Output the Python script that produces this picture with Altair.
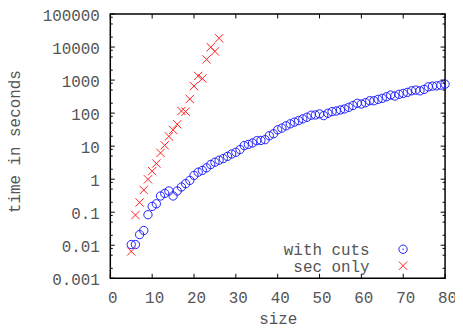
import altair as alt
import pandas as pd

series_names = ["with cuts", "sec only"]

sizes_cuts = list(range(5, 81))
time_cuts = [0.0105, 0.0105, 0.021, 0.028, 0.084, 0.15, 0.18, 0.31, 0.37, 0.44,
             0.31, 0.44, 0.58, 0.73, 0.92, 1.3, 1.63, 1.84, 2.21, 2.78,
             3.26, 3.75, 4.2, 4.9, 5.8, 6.5, 7.9, 10.4, 11.3, 12.5,
             14.6, 14.9, 15.7, 20.7, 23.7, 31.3, 35.2, 41.3, 47.4, 53.3,
             59.6, 67, 75, 86.5, 88, 94.6, 84, 99, 111, 116,
             125, 134, 150, 170, 198, 189, 207, 237, 237, 261,
             280, 313, 352, 329, 370, 396, 425, 474, 498, 474,
             522, 625, 656, 670, 703, 753]

sizes_sec = list(range(5, 27))
time_sec = [0.0065, 0.082, 0.197, 0.47, 0.99, 1.75, 2.98, 6.25, 10.6, 19.7,
            31, 46, 116, 111, 267, 656, 1336, 1117, 4246, 9930, 7380, 18500]

x_ticks = [0, 10, 20, 30, 40, 50, 60, 70, 80]
y_ticks = [0.001, 0.01, 0.1, 1, 10, 100, 1000, 10000, 100000]
y_minor = [m * t for t in y_ticks[:-1] for m in (2, 5, 8)]

W, H = 337, 266
FONT = "Liberation Mono"
TXT = "#555555"
BLUE = "#1f1fff"
RED = "#ff2020"
XPATH = "M-1,-1L1,1M-1,1L1,-1"

xscale = alt.Scale(domain=[0, 80], nice=False, zero=False)
yscale = alt.Scale(type="log", domain=[0.001, 100000], nice=False)

cuts_df = pd.DataFrame({"size": sizes_cuts, "time": time_cuts})
sec_df = pd.DataFrame({"size": sizes_sec, "time": time_sec})

x_axis = alt.Axis(values=x_ticks, ticks=False, tickSize=0, domain=False, grid=False,
                  labelFont=FONT, labelFontSize=16, labelColor=TXT, labelPadding=11,
                  labelOffset=2, labelFlush=False, title="size", titleFont=FONT,
                  titleFontSize=16, titleFontWeight="normal", titleColor=TXT,
                  titleBaseline="alphabetic", titleY=46)
y_axis = alt.Axis(values=y_ticks, format="~r", ticks=False, tickSize=0, domain=False,
                  grid=False, labelFont=FONT, labelFontSize=16, labelColor=TXT,
                  labelPadding=11, labelOffset=1.5, labelFlush=False,
                  title="time in seconds", titleFont=FONT,
                  titleFontSize=16, titleFontWeight="normal", titleColor=TXT,
                  titleX=-88, titleY=128)

cuts = alt.Chart(cuts_df).mark_point(
    shape="circle", filled=False, size=70, strokeWidth=1, color=BLUE, opacity=1
).encode(
    x=alt.X("size:Q", scale=xscale, axis=x_axis),
    y=alt.Y("time:Q", scale=yscale, axis=y_axis),
)

sec = alt.Chart(sec_df).mark_point(
    shape=XPATH, filled=False, size=70, strokeWidth=1, color=RED, opacity=1
).encode(
    x=alt.X("size:Q", scale=xscale, axis=x_axis),
    y=alt.Y("time:Q", scale=yscale, axis=y_axis),
)

xt_df = pd.DataFrame({"size": x_ticks})
yt_df = pd.DataFrame({"time": y_ticks})
ym_df = pd.DataFrame({"time": y_minor})

def xrule(y0, y1):
    return alt.Chart(xt_df).mark_rule(color="black", strokeWidth=1).encode(
        x=alt.X("size:Q", scale=xscale, axis=x_axis), y=alt.value(y0), y2=alt.value(y1))

def yrule(df, x0, x1):
    return alt.Chart(df).mark_rule(color="black", strokeWidth=1).encode(
        y=alt.Y("time:Q", scale=yscale, axis=y_axis), x=alt.value(x0), x2=alt.value(x1))

ticks = [
    xrule(0, 4.5), xrule(H, H - 4.5),
    yrule(yt_df, 0, 4.5), yrule(yt_df, W, W - 4.5),
    yrule(ym_df, 0, 2.5), yrule(ym_df, W, W - 2.5),
]

def leg_text(name, y):
    return alt.Chart(pd.DataFrame({"name": [name]})).mark_text(
        align="right", baseline="middle", font=FONT, fontSize=16, color=TXT
    ).encode(text="name:N", x=alt.value(261), y=alt.value(y))

leg1 = leg_text(series_names[0], 237.3)
leg2 = leg_text(series_names[1], 254.3)
sym1 = alt.Chart(pd.DataFrame({"name": [series_names[0]]})).mark_point(
    shape="circle", filled=False, size=70, strokeWidth=1, color=BLUE, opacity=1
).encode(x=alt.value(294.7), y=alt.value(236.8))
dot1 = alt.Chart(pd.DataFrame({"name": [series_names[0]]})).mark_point(
    shape="circle", filled=True, size=2, color=BLUE, opacity=1
).encode(x=alt.value(294.7), y=alt.value(236.8))
sym2 = alt.Chart(pd.DataFrame({"name": [series_names[1]]})).mark_point(
    shape=XPATH, filled=False, size=70, strokeWidth=1, color=RED, opacity=1
).encode(x=alt.value(294.7), y=alt.value(253.4))

chart = alt.layer(cuts, sec, *ticks, leg1, leg2, sym1, dot1, sym2).properties(
    width=W, height=H,
    padding={"left": 103, "top": 5, "right": 10, "bottom": 49},
    autosize=alt.AutoSizeParams(type="none"),
    background="white",
).configure_view(stroke="black", strokeWidth=1.5)

chart.save("out.html", embed_options={"renderer": "svg", "actions": False})
